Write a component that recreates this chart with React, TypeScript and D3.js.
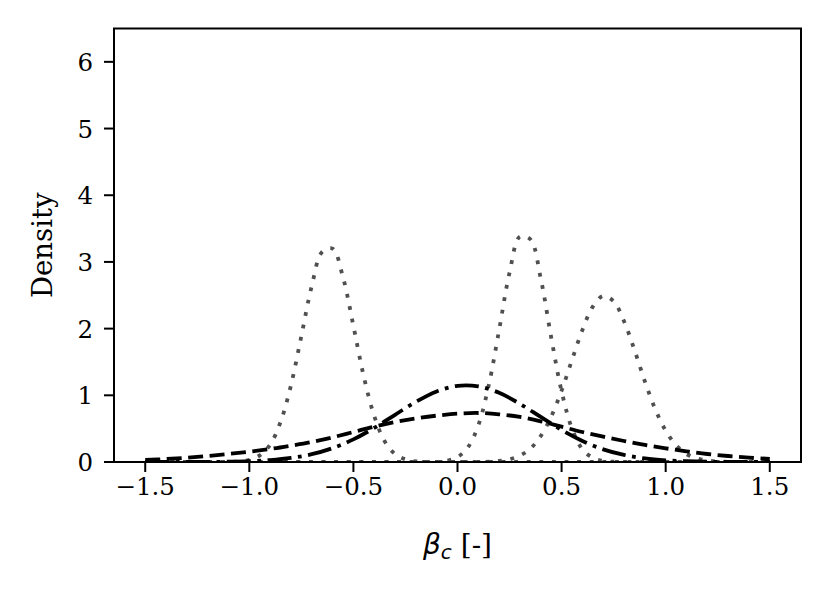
import React from "react";
import * as d3 from "d3";

// Sampling grids (beta_c values)
const X_FINE = [
  -1.5, -1.45, -1.4, -1.35, -1.3, -1.25, -1.2, -1.15, -1.1, -1.05,
  -1.0, -0.95, -0.9, -0.85, -0.8, -0.75, -0.7, -0.65, -0.6, -0.55,
  -0.5, -0.45, -0.4, -0.35, -0.3, -0.25, -0.2, -0.15, -0.1, -0.05,
  0.0, 0.05, 0.1, 0.15, 0.2, 0.25, 0.3, 0.35, 0.4, 0.45,
  0.5, 0.55, 0.6, 0.65, 0.7, 0.75, 0.8, 0.85, 0.9, 0.95,
  1.0, 1.05, 1.1, 1.15, 1.2, 1.25, 1.3, 1.35, 1.4, 1.45, 1.5,
];
const X_COARSE = [
  -1.5, -1.4, -1.3, -1.2, -1.1, -1.0, -0.9, -0.8, -0.7, -0.6,
  -0.5, -0.4, -0.3, -0.2, -0.1, 0.0, 0.1, 0.2, 0.3, 0.4,
  0.5, 0.6, 0.7, 0.8, 0.9, 1.0, 1.1, 1.2, 1.3, 1.4, 1.5,
];

// Density series
const DOTTED_A = [
  0, 0, 0, 0, 0, 0, 0, 0, 0.002, 0.009,
  0.032, 0.1, 0.26, 0.6, 1.15, 1.89, 2.64, 3.15, 3.2, 2.77,
  2.04, 1.28, 0.69, 0.31, 0.12, 0.04, 0.01, 0.002, 0, 0,
  0, 0, 0, 0, 0, 0, 0, 0, 0, 0,
  0, 0, 0, 0, 0, 0, 0, 0, 0, 0,
  0, 0, 0, 0, 0, 0, 0, 0, 0, 0, 0,
];
const DOTTED_B = [
  0, 0, 0, 0, 0, 0, 0, 0, 0, 0,
  0, 0, 0, 0, 0, 0, 0, 0, 0, 0,
  0, 0, 0, 0, 0, 0, 0, 0, 0.001, 0.02,
  0.073, 0.22, 0.55, 1.15, 1.98, 2.84, 3.38, 3.34, 2.75, 1.87,
  1.06, 0.5, 0.19, 0.063, 0.017, 0.004, 0.001, 0, 0, 0,
  0, 0, 0, 0, 0, 0, 0, 0, 0, 0, 0,
];
const DOTTED_C = [
  0, 0, 0, 0, 0, 0, 0, 0, 0, 0,
  0, 0, 0, 0, 0, 0, 0, 0, 0, 0,
  0, 0, 0, 0, 0, 0, 0, 0, 0, 0,
  0, 0, 0, 0.005, 0.016, 0.041, 0.096, 0.2, 0.39, 0.68,
  1.07, 1.53, 1.98, 2.33, 2.49, 2.41, 2.11, 1.68, 1.21, 0.79,
  0.47, 0.25, 0.12, 0.055, 0.022, 0.008, 0.003, 0.001, 0, 0, 0,
];
const DASHDOT = [
  0.0, 0.0, 0.001, 0.002, 0.005, 0.013, 0.029, 0.061, 0.117, 0.208,
  0.339, 0.511, 0.708, 0.902, 1.058, 1.142, 1.134, 1.037, 0.872, 0.675,
  0.481, 0.316, 0.19, 0.106, 0.054, 0.025, 0.011, 0.004, 0.002, 0.001, 0.0,
];
const DASHED = [
  0.03, 0.045, 0.065, 0.09, 0.12, 0.155, 0.195, 0.245, 0.3, 0.37,
  0.45, 0.53, 0.6, 0.655, 0.695, 0.725, 0.735, 0.715, 0.675, 0.61,
  0.53, 0.45, 0.38, 0.315, 0.255, 0.205, 0.16, 0.12, 0.09, 0.065, 0.045,
];

const X_TICKS = [-1.5, -1.0, -0.5, 0.0, 0.5, 1.0, 1.5];
const Y_TICKS = [0, 1, 2, 3, 4, 5, 6];

const W = 830;
const H = 593;
const M = { left: 114, right: 801, top: 28.5, bottom: 462 };
const FONT = "'DejaVu Serif', serif";

export default function App() {
  const x = d3.scaleLinear().domain([-1.65, 1.65]).range([M.left, M.right]);
  const y = d3.scaleLinear().domain([0, 6.5]).range([M.bottom, M.top]);

  const mk = (xs: number[], ys: number[]) =>
    d3
      .line<number>()
      .x((_, i) => x(xs[i]))
      .y((d) => y(Math.max(0, d)))
      .curve(d3.curveCatmullRom.alpha(0.5))(ys) || "";

  const dotted = [DOTTED_A, DOTTED_B, DOTTED_C];
  const fmt = (v: number) => (v < 0 ? "\u2212" : "") + Math.abs(v).toFixed(1);

  return (
    <svg
      width={W}
      height={H}
      style={{ display: "block", position: "absolute", left: 0, top: 0, background: "#fff" }}
    >
      <defs>
        <clipPath id="plotclip">
          <rect x={M.left} y={M.top} width={M.right - M.left} height={M.bottom - M.top} />
        </clipPath>
      </defs>
      <g clipPath="url(#plotclip)">
        {dotted.map((s, k) => (
          <path
            key={"d" + k}
            d={mk(X_FINE, s)}
            fill="none"
            stroke="#505050"
            strokeWidth={3.8}
            strokeDasharray="3.8 8.8"
          />
        ))}
        <path
          d={mk(X_COARSE, DASHED)}
          fill="none"
          stroke="#000"
          strokeWidth={3.8}
          strokeDasharray="15 6.5"
        />
        <path
          d={mk(X_COARSE, DASHDOT)}
          fill="none"
          stroke="#000"
          strokeWidth={3.8}
          strokeDasharray="24 6.5 3.8 6.5"
        />
      </g>
      {/* spines */}
      <rect
        x={M.left}
        y={M.top}
        width={M.right - M.left}
        height={M.bottom - M.top}
        fill="none"
        stroke="#000"
        strokeWidth={2}
      />
      {/* x ticks */}
      {X_TICKS.map((t) => (
        <g key={"xt" + t}>
          <line x1={x(t)} x2={x(t)} y1={M.bottom} y2={M.bottom + 10} stroke="#000" strokeWidth={2} />
          <text
            x={x(t)}
            y={M.bottom + 33}
            textAnchor="middle"
            fontFamily={FONT}
            fontSize={24.5}
            fill="#000"
          >
            {fmt(t)}
          </text>
        </g>
      ))}
      {/* y ticks */}
      {Y_TICKS.map((t) => (
        <g key={"yt" + t}>
          <line x1={M.left - 10} x2={M.left} y1={y(t)} y2={y(t)} stroke="#000" strokeWidth={2} />
          <text
            x={M.left - 21}
            y={y(t) + 9}
            textAnchor="end"
            fontFamily={FONT}
            fontSize={24.5}
            fill="#000"
          >
            {t}
          </text>
        </g>
      ))}
      {/* y label */}
      <text
        transform={`translate(52, ${(M.top + M.bottom) / 2}) rotate(-90)`}
        textAnchor="middle"
        fontFamily={FONT}
        fontSize={27.5}
        fill="#000"
      >
        Density
      </text>
      {/* x label */}
      <text x={(M.left + M.right) / 2} y={554} textAnchor="middle" fontFamily={FONT} fontSize={28} fill="#000">
        <tspan fontFamily="'DejaVu Sans', sans-serif" fontStyle="italic">β</tspan>
        <tspan fontFamily="'DejaVu Sans', sans-serif" fontStyle="italic" fontSize={20} dy={5}>c</tspan>
        <tspan dy={-5}> [-]</tspan>
      </text>
    </svg>
  );
}
